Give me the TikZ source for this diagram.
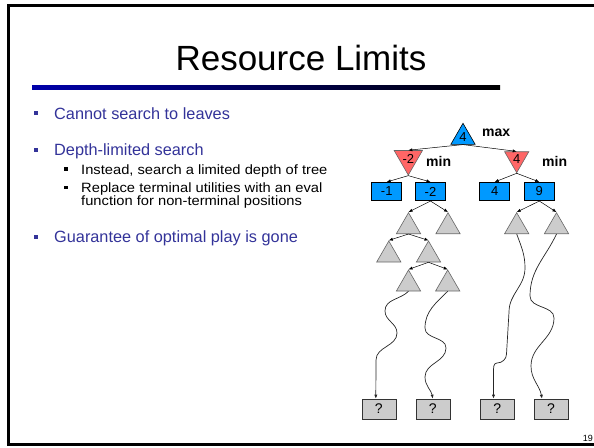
\documentclass[tikz,border=0pt]{standalone}
\usepackage{fontspec}
\setmainfont{Liberation Sans}
\newfontfamily\subfont[FakeStretch=1.09]{Liberation Sans}
\usetikzlibrary{shapes.geometric,arrows.meta}

\definecolor{slideblue}{RGB}{51,51,153}
\definecolor{rulestart}{RGB}{0,0,170}
\definecolor{boxblue}{RGB}{0,153,255}
\definecolor{minred}{RGB}{255,102,102}
\definecolor{leafgray}{RGB}{204,204,204}

\begin{document}
\begin{tikzpicture}[x=1pt,y=-1pt,
		tri/.style={regular polygon, regular polygon sides=3, minimum size=28pt, inner sep=0pt, line width=0.6pt, font=\fontsize{13}{13}\selectfont},
		maxtri/.style={tri, draw=black, fill=boxblue},
		mintri/.style={tri, draw=black!60, fill=minred, shape border rotate=180},
		graytri/.style={tri, draw=black!60, fill=leafgray},
		valbox/.style={draw=black, line width=0.6pt, fill=boxblue, minimum width=30pt, minimum height=18.5pt, inner sep=0pt, font=\fontsize{13}{13}\selectfont},
		leafbox/.style={draw=black!80, line width=0.6pt, fill=leafgray, minimum width=34pt, minimum height=20pt, inner sep=0pt, font=\fontsize{14}{14}\selectfont},
		edge/.style={-{Latex[length=4pt,width=3.2pt]}, line width=0.5pt},
		wiggle/.style={edge, line width=0.7pt, black!85},
		tag/.style={anchor=base west, inner sep=0pt, font=\fontsize{14}{14}\selectfont\bfseries},
		item/.style={anchor=base west, inner sep=0pt, text=slideblue, font=\fontsize{16.3}{16.3}\selectfont},
		subitem/.style={anchor=base west, inner sep=0pt, font=\fontsize{13.5}{13.5}\subfont},
		bullet/.style={rectangle, fill=slideblue, minimum width=4pt, minimum height=4pt, inner sep=0pt},
		subbullet/.style={rectangle, fill=black, minimum width=3.6pt, minimum height=3.6pt, inner sep=0pt}]
	\useasboundingbox (0,0) rectangle (594,447);

	% slide frame
	\fill[black] (6.6,4.4) rectangle (594,7.4);
	\fill[black] (6.6,4.4) rectangle (9.6,445.6);
	\fill[black] (6.6,443.4) rectangle (594,445.6);
	\node[anchor=base east, inner sep=0pt, font=\fontsize{9}{9}\selectfont] (page) at (593,441) {19};

	% title
	\node[anchor=base, inner sep=0pt, font=\fontsize{35}{35}\selectfont] (title) at (301,70) {Resource Limits};
	\shade[left color=rulestart, right color=black] (32,85) rectangle (500,89);

	% bullets
	\node[bullet] (b1) at (35.7,113.3) {};
	\node[item] (t1) at (54,119) {Cannot search to leaves};
	\node[bullet] (b2) at (35.7,150.2) {};
	\node[item] (t2) at (54,155.5) {Depth-limited search};
	\node[subbullet] (s1) at (65.7,169) {};
	\node[subitem] (u1) at (81,174) {Instead, search a limited depth of tree};
	\node[subbullet] (s2) at (65.7,187.3) {};
	\node[subitem] (u2) at (81,192.3) {Replace terminal utilities with an eval};
	\node[subitem] (u3) at (81,205.3) {function for non-terminal positions};
	\node[bullet] (b3) at (35.7,236.7) {};
	\node[item] (t3) at (54,242.5) {Guarantee of optimal play is gone};

	% game tree
	\node[maxtri] (root) at (463,137.3) {4};
	\node[tag] (maxtag) at (482,136) {max};
	\node[mintri] (mina) at (408.3,158.7) {-2};
	\node[mintri] (minb) at (516.7,158.7) {4};
	\node[tag] (mintaga) at (426,166) {min};
	\node[tag] (mintagb) at (542,166) {min};
	\node[valbox] (va) at (386.7,191.5) {-1};
	\node[valbox] (vb) at (430.5,191.5) {-2};
	\node[valbox] (vc) at (494.7,191.5) {4};
	\node[valbox] (vd) at (539.3,191.5) {9};
	\node[graytri] (ga) at (408.5,226.7) {};
	\node[graytri] (gb) at (448,226.7) {};
	\node[graytri] (gc) at (516.7,226.7) {};
	\node[graytri] (gd) at (556.5,226.7) {};
	\node[graytri] (ha) at (388.8,255) {};
	\node[graytri] (hb) at (428.5,255) {};
	\node[graytri] (ka) at (408.5,284) {};
	\node[graytri] (kb) at (447.7,284) {};
	\node[leafbox] (qa) at (378.8,409) {?};
	\node[leafbox] (qb) at (432.8,409) {?};
	\node[leafbox] (qc) at (497.2,409) {?};
	\node[leafbox] (qd) at (551,409) {?};

	\draw[edge] (root.south) -- (mina.north);
	\draw[edge] (root.south) -- (minb.north);
	\draw[edge] (mina.south) -- (va.north);
	\draw[edge] (mina.south) -- (vb.north);
	\draw[edge] (minb.south) -- (vc.north);
	\draw[edge] (minb.south) -- (vd.north);
	\draw[edge] (vb.south) -- (ga.north);
	\draw[edge] (vb.south) -- (gb.north);
	\draw[edge] (vd.south) -- (gc.north);
	\draw[edge] (vd.south) -- (gd.north);
	\draw[edge] (ga.south) -- (ha.north);
	\draw[edge] (ga.south) -- (hb.north);
	\draw[edge] (hb.south) -- (ka.north);
	\draw[edge] (hb.south) -- (kb.north);

	% cut-off paths down to the unknown leaves
	\draw[wiggle] (ka.south) to[out=225,in=90] (385,311) to[out=270,in=90] (397,333) to[out=270,in=90] (376,360) -- ([xshift=-3pt]qa.north);
	\draw[wiggle] (kb.south) to[out=225,in=90] (425,328) to[out=270,in=90] (446,348) to[out=270,in=90] (425,377) to[out=270,in=100] (qb.north);
	\draw[wiggle] (gc.south) to[out=290,in=90] (525,268) to[out=270,in=90] (509,312) -- (506.5,354) to[out=270,in=0] (497,363) to[out=180,in=90] (493.5,372) -- ([xshift=-3.7pt]qc.north);
	\draw[wiggle] (gd.south) to[out=245,in=90] (530,296) to[out=270,in=90] (554,318) to[out=270,in=90] (531,366) to[out=270,in=100] ([xshift=-9pt]qd.north);
\end{tikzpicture}
\end{document}
